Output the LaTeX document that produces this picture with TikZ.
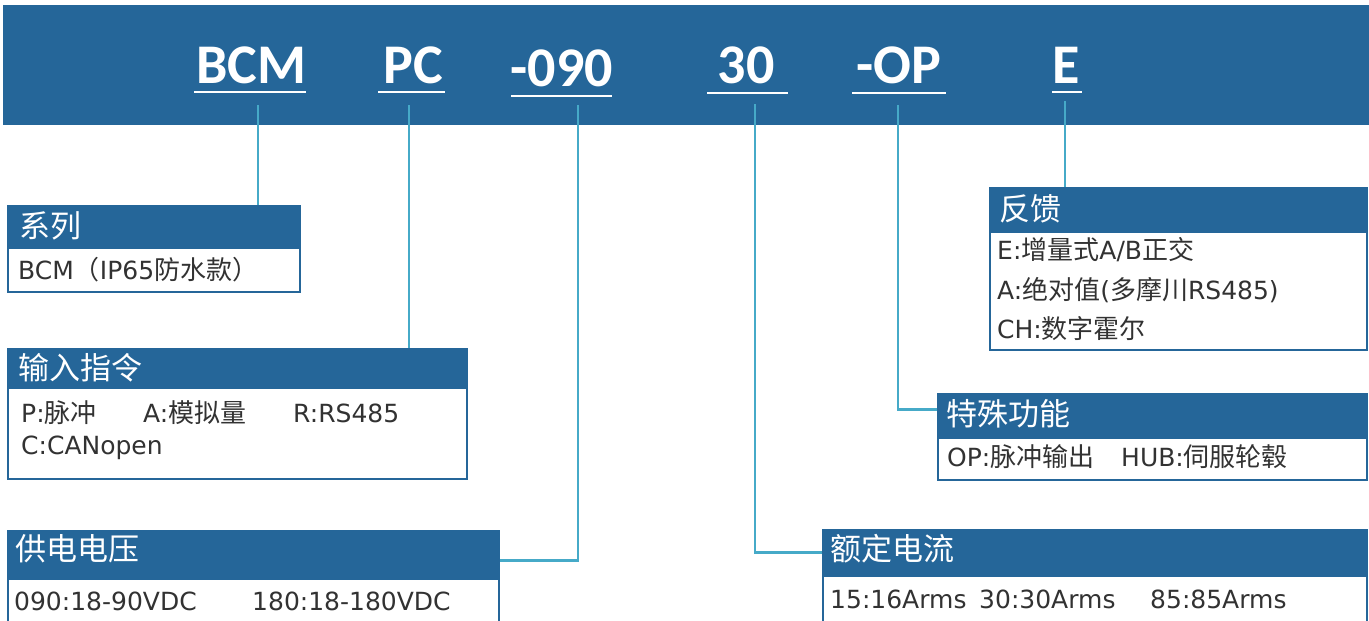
\documentclass[tikz,border=0pt]{standalone}
\usepackage{fontspec}
\setmainfont{DejaVu Sans}
\newfontfamily\cjk{Noto Sans CJK SC}
\newfontfamily\codefont{Carlito}
\newcommand\zh[1]{{\cjk\fontsize{26}{28}\selectfont #1}}
\definecolor{hdrblue}{RGB}{37,102,153}
\definecolor{connteal}{RGB}{70,170,200}
\definecolor{bodytext}{RGB}{50,50,50}
\tikzset{
  codetxt/.style={text=white,font=\codefont\bfseries\fontsize{56}{60}\selectfont,inner sep=0pt,anchor=base},
  uline/.style={draw=white,line width=2.5pt},
  hdrbox/.style={fill=hdrblue,draw=hdrblue,line width=1.5pt,anchor=north west,inner sep=0pt},
  bodybox/.style={fill=white,draw=hdrblue,line width=2pt,anchor=north west,inner sep=0pt},
  titletxt/.style={text=white,font=\cjk\fontsize{31}{34}\selectfont,inner sep=0pt,anchor=west},
  bodytxt/.style={text=bodytext,font=\fontsize{25}{28}\selectfont,inner sep=0pt,anchor=west},
  conn/.style={draw=connteal,line width=2.6pt}
}
\begin{document}
\begin{tikzpicture}[x=1pt,y=-1pt]
\useasboundingbox (0,0) rectangle (1369,621);
% top band
\node[fill=hdrblue,inner sep=0pt,minimum width=1366pt,minimum height=120pt,anchor=north west] (band) at (3,5) {};
% codes
\node[codetxt] (cbcm) at (251,83) {BCM};
\node[codetxt] (cpc) at (413,83) {PC};
\node[codetxt] (c090) at (562,86) {-090};
\node[codetxt] (c30) at (746,83) {30};
\node[codetxt] (cop) at (899,83) {-OP};
\node[codetxt] (ce) at (1066,83) {E};
\draw[uline] (194,92) -- (306,92);
\draw[uline] (378,92) -- (445,92);
\draw[uline] (511,96) -- (612,96);
\draw[uline] (707,93) -- (788,93);
\draw[uline] (852,93) -- (946,93);
\draw[uline] (1052,92) -- (1082,92);
% boxes
\node[hdrbox,minimum width=292pt,minimum height=42pt] (h1) at (7,205) {};
\node[bodybox,minimum width=292pt,minimum height=44pt] (b1) at (7,247) {};
\node[titletxt] (t1) at (19,226) {系列};
\node[bodytxt] (x1) at (18,270) {BCM\zh{（}IP65\zh{防水款）}};

\node[hdrbox,minimum width=459pt,minimum height=39pt] (h2) at (7,348) {};
\node[bodybox,minimum width=459pt,minimum height=91pt] (b2) at (7,387) {};
\node[titletxt] (t2) at (18,368) {输入指令};
\node[bodytxt] (x2a) at (21,413) {P:\zh{脉冲}};
\node[bodytxt] (x2b) at (143,413) {A:\zh{模拟量}};
\node[bodytxt] (x2c) at (293,413) {R:RS485};
\node[bodytxt] (x2d) at (21,448) {C:CANopen};

\node[hdrbox,minimum width=491pt,minimum height=48pt] (h3) at (7,530) {};
\node[bodybox,minimum width=491pt,minimum height=46pt] (b3) at (7,578) {};
\node[titletxt] (t3) at (15,549) {供电电压};
\node[bodytxt] (x3a) at (14,601) {090:18-90VDC};
\node[bodytxt] (x3b) at (252,601) {180:18-180VDC};

\node[hdrbox,minimum width=544pt,minimum height=46pt] (h4) at (822,529) {};
\node[bodybox,minimum width=544pt,minimum height=48pt] (b4) at (822,575) {};
\node[titletxt] (t4) at (830,549) {额定电流};
\node[bodytxt] (x4a) at (830,599) {15:16Arms};
\node[bodytxt] (x4b) at (979,599) {30:30Arms};
\node[bodytxt] (x4c) at (1150,599) {85:85Arms};

\node[hdrbox,minimum width=377pt,minimum height=44pt] (h5) at (989,187) {};
\node[bodybox,minimum width=377pt,minimum height=118pt] (b5) at (989,231) {};
\node[titletxt] (t5) at (999,209) {反馈};
\node[bodytxt] (x5a) at (997,250) {E:\zh{增量式}A/B\zh{正交}};
\node[bodytxt] (x5b) at (997,290) {A:\zh{绝对值}(\zh{多摩川}RS485)};
\node[bodytxt] (x5c) at (997,329) {CH:\zh{数字霍尔}};

\node[hdrbox,minimum width=429pt,minimum height=44pt] (h6) at (937,393) {};
\node[bodybox,minimum width=429pt,minimum height=42pt] (b6) at (937,437) {};
\node[titletxt] (t6) at (946,414) {特殊功能};
\node[bodytxt] (x6a) at (947,457) {OP:\zh{脉冲输出}};
\node[bodytxt] (x6b) at (1121,457) {HUB:\zh{伺服轮毂}};
% connectors
\coordinate (l1) at (258,105);
\coordinate (l2) at (409,105);
\coordinate (l3) at (578,105);
\coordinate (l4) at (755,104);
\coordinate (l5) at (898,105);
\coordinate (l6) at (1065,101);
\draw[conn] (l1) -- (l1 |- h1.north);
\draw[conn] (l2) -- (l2 |- h2.north);
\draw[conn] (l3) |- ([yshift=-6pt]h3.east);
\draw[conn] (l4) |- (h4.west);
\draw[conn] (l5) |- ([yshift=6pt]h6.west);
\draw[conn] (l6) -- (l6 |- h5.north);
\end{tikzpicture}
\end{document}
